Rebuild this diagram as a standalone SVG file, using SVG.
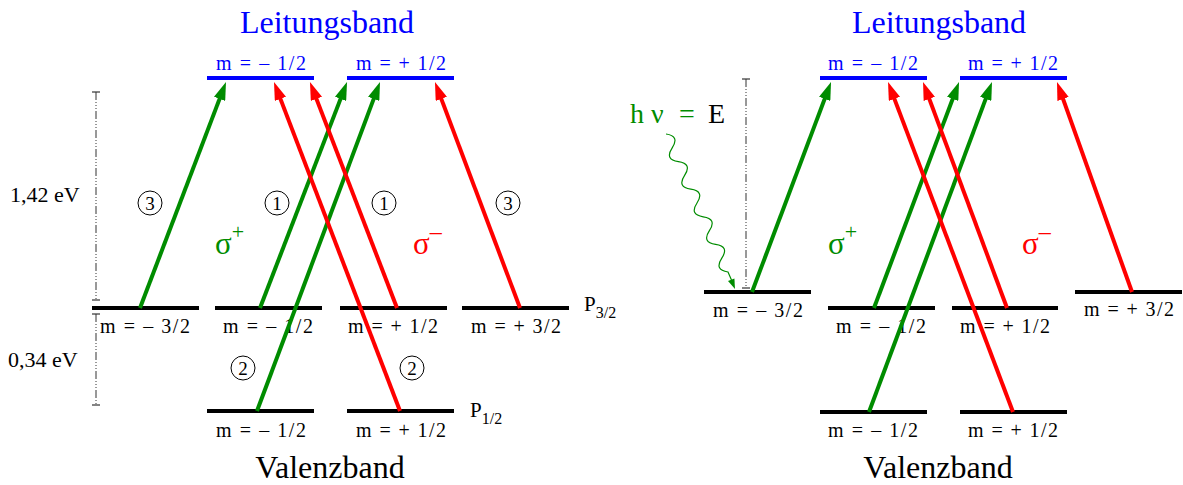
<svg xmlns="http://www.w3.org/2000/svg" width="1183" height="485" viewBox="0 0 1183 485">
<defs>
<style>
text{font-family:"Liberation Serif","Times New Roman",serif;}
.lbl{font-size:20px;fill:#000;text-anchor:middle;}
.blbl{font-size:20px;fill:#0000ff;text-anchor:middle;}
.title{font-size:32px;text-anchor:middle;}
.bar{stroke:#000;stroke-width:4;}
.cbar{stroke:#0000ff;stroke-width:4;}
.g{stroke:#008c00;stroke-width:4;fill:none;marker-end:url(#ag);}
.r{stroke:#ff0000;stroke-width:4;fill:none;marker-end:url(#ar);}
.dd{stroke:#333;stroke-width:1;stroke-dasharray:8 2 1 2 1 2 1 2;}
.cap{stroke:#333;stroke-width:1.2;}
.circ{fill:none;stroke:#000;stroke-width:1;}
.num{font-size:19px;text-anchor:middle;}
.ev{font-size:22px;}
</style>
<marker id="ag" markerUnits="userSpaceOnUse" viewBox="0 0 18 12" refX="4" refY="6" markerWidth="18" markerHeight="12" orient="auto"><path d="M0,0 L18,6 L0,12 z" fill="#008c00"/></marker>
<marker id="ar" markerUnits="userSpaceOnUse" viewBox="0 0 18 12" refX="4" refY="6" markerWidth="18" markerHeight="12" orient="auto"><path d="M0,0 L18,6 L0,12 z" fill="#ff0000"/></marker>
</defs>

<!-- Titles -->
<text class="title" x="327" y="33" fill="#0000ff">Leitungsband</text>
<text class="title" x="330" y="478" fill="#000">Valenzband</text>
<text class="title" x="939" y="33" fill="#0000ff">Leitungsband</text>
<text class="title" x="938" y="478" fill="#000">Valenzband</text>

<!-- Left nodes: conduction band -->
<g id="L_cb_m12"><line class="cbar" x1="207" y1="78" x2="314" y2="78"/><text class="blbl" x="261" y="70" textLength="90" lengthAdjust="spacing">m = – 1/2</text></g>
<g id="L_cb_p12"><line class="cbar" x1="347" y1="78" x2="454" y2="78"/><text class="blbl" x="401" y="70" textLength="90" lengthAdjust="spacing">m = + 1/2</text></g>
<!-- Left nodes: P3/2 -->
<g id="L_p32_m32"><line class="bar" x1="92" y1="308" x2="199" y2="308"/><text class="lbl" x="145" y="333" textLength="90" lengthAdjust="spacing">m = – 3/2</text></g>
<g id="L_p32_m12"><line class="bar" x1="215" y1="308" x2="322" y2="308"/><text class="lbl" x="268" y="333" textLength="90" lengthAdjust="spacing">m = – 1/2</text></g>
<g id="L_p32_p12"><line class="bar" x1="340" y1="308" x2="447" y2="308"/><text class="lbl" x="393" y="333" textLength="90" lengthAdjust="spacing">m = + 1/2</text></g>
<g id="L_p32_p32"><line class="bar" x1="462" y1="308" x2="569" y2="308"/><text class="lbl" x="516" y="333" textLength="90" lengthAdjust="spacing">m = + 3/2</text></g>
<!-- Left nodes: P1/2 -->
<g id="L_p12_m12"><line class="bar" x1="207" y1="411" x2="314" y2="411"/><text class="lbl" x="261" y="437" textLength="90" lengthAdjust="spacing">m = – 1/2</text></g>
<g id="L_p12_p12"><line class="bar" x1="347" y1="411" x2="454" y2="411"/><text class="lbl" x="401" y="437" textLength="90" lengthAdjust="spacing">m = + 1/2</text></g>

<!-- Right nodes -->
<g id="R_cb_m12"><line class="cbar" x1="820" y1="78" x2="927" y2="78"/><text class="blbl" x="873" y="70" textLength="90" lengthAdjust="spacing">m = – 1/2</text></g>
<g id="R_cb_p12"><line class="cbar" x1="960" y1="78" x2="1067" y2="78"/><text class="blbl" x="1013" y="70" textLength="90" lengthAdjust="spacing">m = + 1/2</text></g>
<g id="R_p32_m32"><line class="bar" x1="704" y1="292" x2="811" y2="292"/><text class="lbl" x="758" y="317" textLength="90" lengthAdjust="spacing">m = – 3/2</text></g>
<g id="R_p32_m12"><line class="bar" x1="828" y1="308" x2="935" y2="308"/><text class="lbl" x="881" y="333" textLength="90" lengthAdjust="spacing">m = – 1/2</text></g>
<g id="R_p32_p12"><line class="bar" x1="952" y1="308" x2="1058" y2="308"/><text class="lbl" x="1005" y="333" textLength="90" lengthAdjust="spacing">m = + 1/2</text></g>
<g id="R_p32_p32"><line class="bar" x1="1075" y1="292" x2="1182" y2="292"/><text class="lbl" x="1129" y="316" textLength="90" lengthAdjust="spacing">m = + 3/2</text></g>
<g id="R_p12_m12"><line class="bar" x1="820" y1="412" x2="927" y2="412"/><text class="lbl" x="873" y="437" textLength="90" lengthAdjust="spacing">m = – 1/2</text></g>
<g id="R_p12_p12"><line class="bar" x1="960" y1="412" x2="1067" y2="412"/><text class="lbl" x="1013" y="437" textLength="90" lengthAdjust="spacing">m = + 1/2</text></g>

<!-- Connectors -->
<g id="connectors">
<line class="g" x1="140" y1="308" x2="221" y2="95.1"/>
<line class="g" x1="260" y1="308" x2="342" y2="95.1"/>
<line class="g" x1="257" y1="411" x2="375.1" y2="95.1"/>
<line class="r" x1="397" y1="308" x2="315" y2="95.1"/>
<line class="r" x1="400" y1="411" x2="279" y2="95.1"/>
<line class="r" x1="520" y1="308" x2="439.9" y2="95.1"/>
<line class="g" x1="752" y1="292" x2="826.1" y2="95.1"/>
<line class="g" x1="874" y1="308" x2="954.1" y2="95.1"/>
<line class="g" x1="869" y1="412" x2="987.1" y2="95.1"/>
<line class="r" x1="1007" y1="308" x2="927.9" y2="95.1"/>
<line class="r" x1="1013" y1="412" x2="893" y2="95.1"/>
<line class="r" x1="1132" y1="292" x2="1061.7" y2="95.2"/>
<path d="M666,134 Q680,136 672.2,147.8 T678.4,161.6 T684.6,175.4 T690.8,189.2 T697,203 T703.2,216.8 T709.4,230.6 T715.6,244.4 T721.8,258.2 T728,272 L731.5,280" fill="none" stroke="#008c00" stroke-width="1.2"/>
<polygon points="735,289 734.4,278.5 728,281.1" fill="#008c00"/>
</g>

<!-- Energy scales -->
<g id="scale_left">
<line class="dd" x1="96" y1="92" x2="96" y2="300"/>
<line class="cap" x1="92" y1="92" x2="100" y2="92"/>
<line class="cap" x1="92" y1="300" x2="100" y2="300"/>
<line class="dd" x1="96" y1="314" x2="96" y2="405"/>
<line class="cap" x1="92" y1="314" x2="100" y2="314"/>
<line class="cap" x1="92" y1="405" x2="100" y2="405"/>
<text class="ev" x="10" y="202">1,42 eV</text>
<text class="ev" x="8" y="367">0,34 eV</text>
</g>
<g id="scale_right">
<line class="dd" x1="746" y1="79" x2="746" y2="288"/>
<line class="cap" x1="742" y1="79" x2="750" y2="79"/>
<line class="cap" x1="742" y1="288" x2="750" y2="288"/>
</g>

<!-- Level labels -->
<text x="584" y="311" font-size="21">P<tspan font-size="16" dy="7">3/2</tspan></text>
<text x="470" y="417" font-size="21">P<tspan font-size="16" dy="7">1/2</tspan></text>

<!-- sigma labels -->
<text x="215" y="254" font-size="31" fill="#008c00">σ<tspan font-size="22" dy="-15">+</tspan></text>
<text x="413" y="254" font-size="31" fill="#ff0000">σ<tspan font-size="24" dy="-15">–</tspan></text>
<text x="828" y="254" font-size="31" fill="#008c00">σ<tspan font-size="22" dy="-15">+</tspan></text>
<text x="1022" y="254" font-size="31" fill="#ff0000">σ<tspan font-size="24" dy="-15">–</tspan></text>

<!-- hv = E -->
<text y="123" font-size="28"><tspan x="630" fill="#008c00">h</tspan><tspan x="651" fill="#008c00">ν</tspan><tspan x="679" fill="#008c00">=</tspan><tspan x="708" fill="#000">E</tspan></text>

<!-- circled numbers -->
<g id="circled">
<circle class="circ" cx="150" cy="203" r="12"/><text class="num" x="150" y="209.5">3</text>
<circle class="circ" cx="277" cy="203" r="12"/><text class="num" x="277" y="209.5">1</text>
<circle class="circ" cx="384" cy="203" r="12"/><text class="num" x="384" y="209.5">1</text>
<circle class="circ" cx="508" cy="203" r="12"/><text class="num" x="508" y="209.5">3</text>
<circle class="circ" cx="243" cy="368" r="12"/><text class="num" x="243" y="374.5">2</text>
<circle class="circ" cx="412" cy="368" r="12"/><text class="num" x="412" y="374.5">2</text>
</g>
</svg>
